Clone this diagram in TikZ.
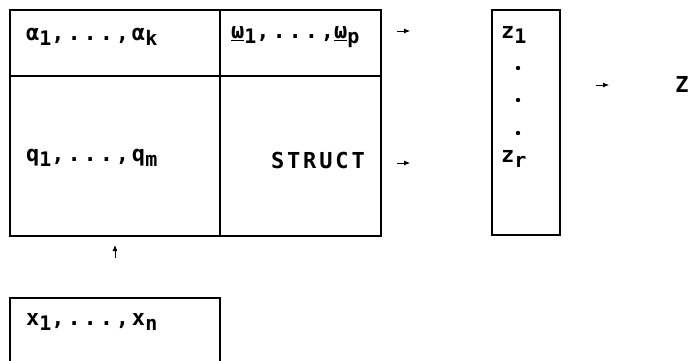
\documentclass[tikz,border=0pt]{standalone}
\usepackage{fontspec}
\newfontfamily\plotfont[LetterSpace=13]{DejaVu Sans Mono}
\usetikzlibrary{arrows.meta,positioning}
\newcommand{\lo}[1]{\raisebox{-0.22em}{\fontsize{20}{20}\selectfont #1}}

\begin{document}
\begin{tikzpicture}[x=1pt, y=-1pt, >={Latex[length=6pt,width=5pt]},
    font=\plotfont\bfseries\fontsize{22}{24}\selectfont,
    cell/.style={draw, line width=1.6pt, inner sep=0pt},
    txt/.style={inner sep=0pt, anchor=west}]
    \useasboundingbox (0,0) rectangle (688,361);

    % Table cells
    \node[cell, minimum width=210pt, minimum height=66pt] (ab) at (115,43) {};
    \node[cell, minimum width=161pt, minimum height=66pt] (om) at (300.5,43) {};
    \node[cell, minimum width=210pt, minimum height=160pt] (qc) at (115,156) {};
    \node[cell, minimum width=161pt, minimum height=160pt] (st) at (300.5,156) {};

    % Texts in the cells
    \node[txt] (abt) at (26,37) {α\lo{1},...,α\lo{k}};
    \node[txt] (omt) at (231,37) {\underline{ω}\lo{1},...,\underline{ω}\lo{p}};
    \node[txt] (qct) at (26,158) {q\lo{1},...,q\lo{m}};
    \node[txt, anchor=east] (stt) at (365,160) {STRUCT};

    % Vector z
    \node[cell, minimum width=68pt, minimum height=225pt] (zv) at (526,122.5) {};
    \node[txt] (z1) at (501,35) {z\lo{1}};
    \node[txt] (zr) at (501,159) {z\lo{r}};
    \foreach \y in {68,100,133}
        \fill (518,\y) circle (2.2pt);

    % Result
    \node (zz) at (682,84) {Z};

    % Input box, open at the bottom
    \node[inner sep=0pt, minimum width=210pt, minimum height=84pt] (xin) at (115,340) {};
    \draw[line width=1.6pt] (xin.south west) -- (xin.north west) -- (xin.north east) -- (xin.south east);
    \node[txt] (xt) at (26,322) {x\lo{1},...,x\lo{n}};

    % Small arrows
    \coordinate (a1) at (397,31);
    \coordinate (a2) at (397,163);
    \coordinate (a3) at (596,85);
    \coordinate (a4) at (115,258);
    \draw[->, thick] (a1) -- ++(13,0);
    \draw[->, thick] (a2) -- ++(13,0);
    \draw[->, thick] (a3) -- ++(13,0);
    \draw[->, thick] (a4) -- ++(0,-13);
\end{tikzpicture}
\end{document}
